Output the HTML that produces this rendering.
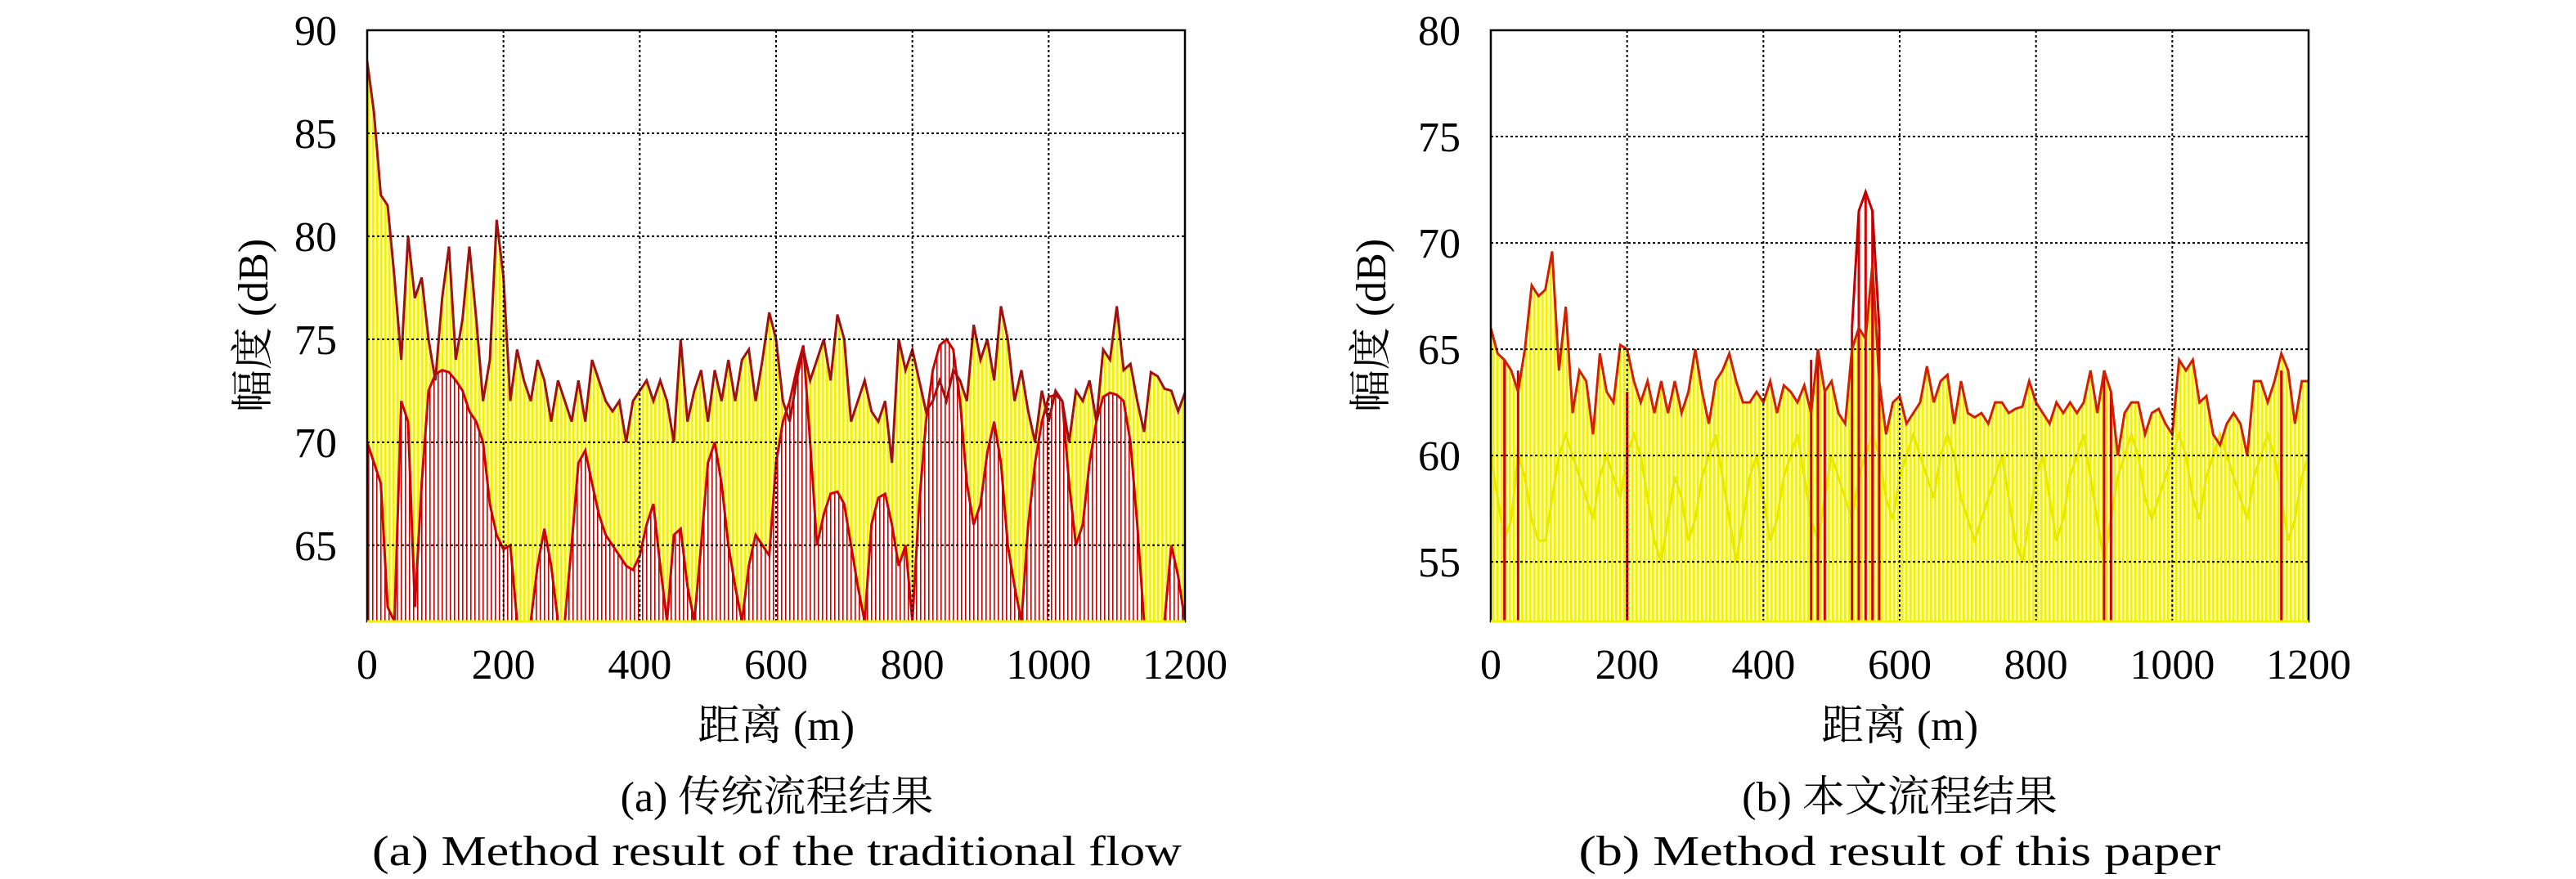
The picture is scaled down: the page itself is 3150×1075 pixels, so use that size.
<!DOCTYPE html>
<html><head><meta charset="utf-8">
<style>
html,body{margin:0;padding:0;background:#fff;}
svg{display:block;}
text{font-family:"Liberation Serif","Noto Serif CJK SC",serif;fill:#000;}
</style></head>
<body>
<svg id="fig" width="3150" height="1075" viewBox="0 0 3150 1075" xmlns="http://www.w3.org/2000/svg">
<defs>
<pattern id="yellowStems" patternUnits="userSpaceOnUse" width="5" height="10">
<rect width="5" height="10" fill="#ffffb0"/><rect x="0" width="2.6" height="10" fill="#f2f200"/>
</pattern>
<pattern id="redStems" patternUnits="userSpaceOnUse" width="5" height="10">
<rect width="5" height="10" fill="#ffffff"/><rect x="0" width="1.6" height="10" fill="#c80000"/>
</pattern>
</defs>
<g id="chartA"></g>
<g id="chartB"></g>
<text x="950" y="992" font-size="52" text-anchor="middle">(a) 传统流程结果</text>
<text x="950" y="1058" font-size="52" text-anchor="middle" textLength="990" lengthAdjust="spacingAndGlyphs">(a) Method result of the traditional flow</text>
<text x="2323" y="992" font-size="52" text-anchor="middle">(b) 本文流程结果</text>
<text x="2323" y="1058" font-size="52" text-anchor="middle" textLength="785" lengthAdjust="spacingAndGlyphs">(b) Method result of this paper</text>
</svg>
<script>
const distances = [0,10,20,30,40,50,60,70,80,90,100,110,120,130,140,150,160,170,180,190,200,210,220,230,240,250,260,270,280,290,300,310,320,330,340,350,360,370,380,390,400,410,420,430,440,450,460,470,480,490,500,510,520,530,540,550,560,570,580,590,600,610,620,630,640,650,660,670,680,690,700,710,720,730,740,750,760,770,780,790,800,810,820,830,840,850,860,870,880,890,900,910,920,930,940,950,960,970,980,990,1000,1010,1020,1030,1040,1050,1060,1070,1080,1090,1100,1110,1120,1130,1140,1150,1160,1170,1180,1190,1200];
const xTicks = [0,200,400,600,800,1000,1200];
const yTicksA = [65,70,75,80,85,90];
const yTicksB = [55,60,65,70,75,80];
const aUpper = [88.5,86,82,81.5,78,74,80,77,78,75,73,77,79.5,74,76,79.5,76,72,74,80.8,78,72,74.5,73,72,74,73,71,73,72,71,73,71,74,73,72,71.5,72,70,72,72.5,73,72,73,72,70,75,71,72.5,73.5,71,73.5,72,74,72,74,74.5,72,74,76.3,75,72,71,73,74.5,73,74,75,73,76.2,75,71,72,73,71.5,71,72,69,75,73.5,74.5,73,71.5,72,73,72,73.5,73,72,75.7,74,75,73,76.6,75,72,73.5,71.5,70,72.5,71,72.5,72,70,72.5,72,73,71,74.5,74,76.6,73.5,73.8,72,70.5,73.4,73.2,72.6,72.5,71.5,72.4];
const aLower = [70,69,68,62,61.3,72,71,62,68,72.5,73.3,73.5,73.4,73,72.5,71.5,71,70,67,65.5,64.8,65,61.3,61.3,61.3,64,65.8,64,61.3,61.3,65,69,69.6,68,66.5,65.5,65,64.5,64,63.8,64.5,66,67,64,61.3,65.5,65.8,63,61.3,65,69,70,68,65,63,61.3,64,65.5,65,64.5,69,71,72,73.5,74.7,70,65,66.5,67.5,67.6,67,65,63,61.3,66,67.3,67.5,66,64,65,61.3,67,71,73.5,74.7,75,74.5,72,68,66,67,69.5,71,69,65,63,61.3,66,69,71,72.2,72.3,72,68,65,66,69,71,72.2,72.4,72.3,72,70,66,61.3,61.3,61.3,61.3,65,63.5,61.3];
const bUpper = [66,64.8,64.5,64,63,65,68,67.5,67.8,69.6,64,67,62,64,63.5,61,64.8,63,62.5,65.2,65,63.5,62.5,63.5,62,63.5,62,63.5,62,63,65,63,61.5,63.5,64,64.8,63.5,62.5,62.5,63,62.5,63.5,62,63.3,63,62.5,63.3,62,65,63,63.5,62,61.5,65,66,65.5,69,63.5,61,62.5,62.8,61.5,62,62.5,64.2,62.5,63.5,63.8,61.5,63.5,62,61.8,62,61.5,62.5,62.5,62,62.2,62.3,63.5,62.5,62,61.5,62.5,62,62.5,62,62.5,64,62,64,63,60,62,62.5,62.5,61,62,62.2,61.5,61,64.5,64,64.5,62.5,62.8,61,60.5,61.5,62,61.5,60,63.5,63.5,62.5,63.5,64.8,64,61.5,63.5,63.5];
const bLower = [60,58,56,57,60,59,57,56,56,58,60,61,60,59,58,57,59,60,59,58,60,61,60,58,56,55,57,59,58,56,57,59,60,61,59,57,55,57,59,60,58,56,57,59,60,61,59,57,56,58,60,59,58,57,59,60,61,60,58,57,59,60,61,60,59,58,60,61,60,58,57,56,57,58,59,60,58,56,55,57,59,60,58,56,57,59,60,61,59,57,55,57,59,60,61,60,58,57,58,59,60,61,60,58,57,59,60,61,60,59,58,57,59,60,61,60,58,56,57,59,60];
const bRedX = [20,40,200,470,480,490,530,540,550,560,570,900,910,1160];
const bRedY = [64.5,64,63,64.5,65,63,66,71.5,72.4,71.5,66,64,63,64];

const NS = "http://www.w3.org/2000/svg";
function mk(tag, attrs, parent){const e=document.createElementNS(NS,tag);for(const k in attrs)e.setAttribute(k,attrs[k]);parent.appendChild(e);return e;}

function drawChart(g, cfg){
  const X = v => cfg.x0 + (v-0)/(1200-0)*(cfg.x1-cfg.x0);
  const Y = v => cfg.y1 - (v-cfg.ymin)/(cfg.ymax-cfg.ymin)*(cfg.y1-cfg.y0);
  const clipId = g.id+'clip';
  const defs = mk('clipPath',{id:clipId},g);
  mk('rect',{x:cfg.x0,y:cfg.y0,width:cfg.x1-cfg.x0,height:cfg.y1-cfg.y0},defs);
  const plot = mk('g',{'clip-path':'url(#'+clipId+')'},g);
  
  
  const areaPts = vals => X(distances[0])+','+cfg.y1+' '+distances.map((d,i)=>X(d)+','+Y(vals[i])).join(' ')+' '+X(distances[distances.length-1])+','+cfg.y1;
  const linePts = vals => distances.map((d,i)=>X(d)+','+Y(vals[i])).join(' ');
  // upper yellow stems
  const ya = mk('polygon',{points:areaPts(cfg.upper),fill:'url(#yellowStems)'},plot);
  
  
  if(cfg.lowerRed){
    const ra = mk('polygon',{points:areaPts(cfg.lower),fill:'url(#redStems)'},plot);
    
    
    const rl = mk('polyline',{points:linePts(cfg.lower),fill:'none',stroke:'#d00000','stroke-width':3},plot);
    
    
  } else {
    const yl = mk('polyline',{points:linePts(cfg.lower),fill:'none',stroke:'#e8e800','stroke-width':3},plot);
    
    
  }
  if(cfg.redX){
    cfg.redX.forEach((d,i)=>{
      const s = mk('line',{x1:X(d),x2:X(d),y1:cfg.y1,y2:Y(cfg.redY[i]),stroke:'#d00000','stroke-width':3},plot);
      
      
    });
    const rp = mk('polyline',{points:cfg.redX.slice(6,11).map((d,i)=>X(d)+','+Y(cfg.redY[i+6])).join(' '),fill:'none',stroke:'#c00000','stroke-width':3},plot);
    
    
  }
  const ul = mk('polyline',{points:linePts(cfg.upper),fill:'none',stroke:cfg.upperStroke,'stroke-width':3},plot);
  
  
  // grid
  xTicks.forEach(t=>{
    if(t>0 && t<1200){
      const l = mk('line',{x1:X(t),x2:X(t),y1:cfg.y0,y2:cfg.y1,stroke:'#000','stroke-width':2,'stroke-dasharray':'3,3'},g);
      
      
    }
    const tx = mk('text',{x:X(t),y:830,'font-size':52,'text-anchor':'middle'},g);
    tx.textContent = t;
    
    
  });
  cfg.yTicks.forEach(t=>{
    if(t<cfg.ymax){
      const l = mk('line',{x1:cfg.x0,x2:cfg.x1,y1:Y(t),y2:Y(t),stroke:'#000','stroke-width':2,'stroke-dasharray':'3,3'},g);
      
      
    }
    const tx = mk('text',{x:cfg.x0-37,y:Y(t)+18,'font-size':52,'text-anchor':'end'},g);
    tx.textContent = t;
    
    
  });
  const fr = mk('rect',{x:cfg.x0,y:cfg.y0,width:cfg.x1-cfg.x0,height:cfg.y1-cfg.y0,fill:'none',stroke:'#000','stroke-width':2.5},g);
  
  
  const bl = mk('line',{x1:cfg.x0,x2:cfg.x1,y1:cfg.y1,y2:cfg.y1,stroke:'#f0f000','stroke-width':3},g);
  
  
  const xt = mk('text',{x:(cfg.x0+cfg.x1)/2,y:905,'font-size':52,'text-anchor':'middle'},g);
  xt.textContent = '距离 (m)';
  
  
  const yt = mk('text',{x:0,y:0,'font-size':52,'text-anchor':'middle',transform:'translate('+(cfg.yTitleX)+',398) rotate(-90)'},g);
  yt.textContent = '幅度 (dB)';
  
  
}

drawChart(document.getElementById('chartA'),{x0:449,x1:1449,y0:37,y1:760,ymin:61.3,ymax:90,yTicks:yTicksA,upper:aUpper,lower:aLower,lowerRed:true,upperStroke:'#a01010',yTitleX:327});
drawChart(document.getElementById('chartB'),{x0:1823,x1:2823,y0:37,y1:760,ymin:52.2,ymax:80,yTicks:yTicksB,upper:bUpper,lower:bLower,lowerRed:false,redX:bRedX,redY:bRedY,upperStroke:'#d02000',yTitleX:1694});
</script>
</body></html>
